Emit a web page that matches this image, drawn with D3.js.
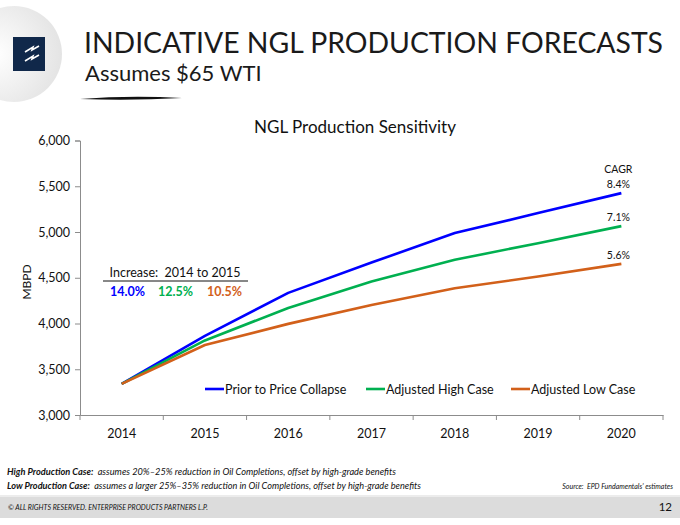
<!DOCTYPE html>
<html>
<head>
<meta charset="utf-8">
<script src="https://cdn.jsdelivr.net/npm/d3@7"></script>
<style>
  body { margin: 0; background: #fff; }
  svg { display: block; font-family: Lato, "Open Sans", sans-serif; }
</style>
</head>
<body>
<svg id="chart" width="680" height="525"></svg>
<script>
// chart data
const years = ["2014", "2015", "2016", "2017", "2018", "2019", "2020"];
const priorCase = [3340, 3865, 4335, 4666, 4988, 5207, 5425];
const highCase  = [3340, 3815, 4170, 4458, 4696, 4878, 5064];
const lowCase   = [3340, 3765, 3996, 4203, 4386, 4513, 4652];
const yTicks = [3000, 3500, 4000, 4500, 5000, 5500, 6000];
const cagrLabels = ["8.4%", "7.1%", "5.6%"];
const increaseLabels = ["14.0%", "12.5%", "10.5%"];
const seriesNames = ["Prior to Price Collapse", "Adjusted High Case", "Adjusted Low Case"];
const colors = ["#0000ff", "#00b050", "#d2601a"];

const svg = d3.select("#chart");

//header: logo disc + navy square
let grad = svg.append("defs").append("radialGradient")
    .attr("id", "disc").attr("cx", "30%").attr("cy", "50%").attr("r", "70%");
grad.append("stop").attr("offset", "0%").attr("stop-color", "#ffffff");
grad.append("stop").attr("offset", "100%").attr("stop-color", "#e4e4e4");
svg.append("circle").attr("cx", 14).attr("cy", 54).attr("r", 48).attr("fill", "url(#disc)");
svg.append("rect").attr("x", 13).attr("y", 37).attr("width", 32).attr("height", 34).attr("fill", "#10284a");
//little lightning strokes
svg.append("path")
    .attr("d", "M25,52 L33,47 L32,50 L39,46 M25,61 L33,56 L32,59 L39,55")
    .attr("stroke", "#fff").attr("stroke-width", 1.6).attr("fill", "none");

svg.append("text").attr("x", 84).attr("y", 53)
    .attr("font-size", 29).attr("fill", "#1a1a1a")
    .attr("textLength", 579).attr("lengthAdjust", "spacingAndGlyphs")
    .text("INDICATIVE NGL PRODUCTION FORECASTS");
svg.append("text").attr("x", 85).attr("y", 81)
    .attr("font-size", 22).attr("fill", "#1a1a1a")
    .text("Assumes $65 WTI");
//swoosh under subtitle
svg.append("path")
    .attr("d", "M80,99 Q130,95 182,98 Q130,101 80,99 Z")
    .attr("fill", "#111");

//chart area
const x = d3.scaleBand().domain(years).range([80, 663]);
const y = d3.scaleLinear().domain([3000, 6000]).range([415, 140.5]);

svg.append("text").attr("x", 355).attr("y", 133)
    .attr("text-anchor", "middle").attr("font-size", 17).attr("fill", "#111")
    .text("NGL Production Sensitivity");

//y axis
let yAxis = svg.append("g")
    .attr("transform", "translate(80,0)")
    .call(d3.axisLeft(y).tickValues(yTicks).tickSize(5).tickFormat(d3.format(",")));
yAxis.selectAll("text").attr("font-size", 12.5).attr("fill", "#111")
    .attr("font-family", "Lato, sans-serif").attr("dx", "-2");
yAxis.selectAll("line, path").attr("stroke", "#8c8c8c");

svg.append("text")
    .attr("transform", "translate(31,282) rotate(-90)")
    .attr("text-anchor", "middle").attr("font-size", 12).attr("fill", "#111")
    .text("MBPD");

//x axis with ticks on band edges
let xAxis = svg.append("g")
    .attr("transform", "translate(0,415)")
    .call(d3.axisBottom(x).tickSize(0).tickPadding(14));
xAxis.select(".domain").attr("stroke", "#8c8c8c");
xAxis.selectAll("text").attr("font-size", 12.5).attr("fill", "#111")
    .attr("font-family", "Lato, sans-serif");
let edges = years.map(d => x(d)).concat([x.range()[1]]);
svg.append("g").selectAll("line")
    .data(edges)
    .enter().append("line")
    .attr("x1", d => d).attr("x2", d => d)
    .attr("y1", 415).attr("y2", 420)
    .attr("stroke", "#8c8c8c");

//lines
const line = d3.line()
    .x((d, i) => x(years[i]) + x.bandwidth() / 2)
    .y(d => y(d));
[priorCase, highCase, lowCase].forEach((s, i) => {
  svg.append("path")
      .datum(s)
      .attr("d", line)
      .attr("fill", "none")
      .attr("stroke", colors[i])
      .attr("stroke-width", 2.6)
      .attr("stroke-linejoin", "round");
});

//CAGR labels at 2020 end
let lastX = x("2020") + x.bandwidth() / 2 - 3;
svg.append("text").attr("x", lastX).attr("y", 173)
    .attr("text-anchor", "middle").attr("font-size", 10.5).attr("fill", "#111").text("CAGR");
[priorCase, highCase, lowCase].forEach((s, i) => {
  svg.append("text")
      .attr("x", lastX).attr("y", y(s[s.length - 1]) - 5)
      .attr("text-anchor", "middle").attr("font-size", 10.5).attr("fill", "#111")
      .text(cagrLabels[i]);
});

//increase annotation
svg.append("text").attr("x", 175).attr("y", 277)
    .attr("text-anchor", "middle").attr("font-size", 12.5).attr("fill", "#111")
    .attr("xml:space", "preserve")
    .text("Increase:  2014 to 2015");
svg.append("line").attr("x1", 103).attr("x2", 248).attr("y1", 281).attr("y2", 281)
    .attr("stroke", "#111").attr("stroke-width", 1);
[110, 158, 207].forEach((px, i) => {
  svg.append("text").attr("x", px).attr("y", 296)
      .attr("font-size", 12.5).attr("font-weight", "bold").attr("fill", colors[i])
      .text(increaseLabels[i]);
});

//legend
const legendX = [205, 366, 511];
seriesNames.forEach((n, i) => {
  let g = svg.append("g").attr("transform", "translate(" + legendX[i] + ",389)");
  g.append("line").attr("x1", 0).attr("x2", 19).attr("y1", 0).attr("y2", 0)
      .attr("stroke", colors[i]).attr("stroke-width", 2.6);
  g.append("text").attr("x", 20).attr("y", 4.5)
      .attr("font-size", 12.5).attr("fill", "#111").text(n);
});

//footnotes
let f1 = svg.append("text").attr("x", 7).attr("y", 475)
    .attr("font-size", 8.8).attr("font-style", "italic").attr("fill", "#111")
    .attr("xml:space", "preserve")
    .attr("textLength", 389).attr("lengthAdjust", "spacingAndGlyphs");
f1.append("tspan").attr("font-weight", "bold").text("High Production Case:");
f1.append("tspan").text("  assumes 20%\u201325% reduction in Oil Completions, offset by high-grade benefits");
let f2 = svg.append("text").attr("x", 7).attr("y", 489)
    .attr("font-size", 8.8).attr("font-style", "italic").attr("fill", "#111")
    .attr("xml:space", "preserve")
    .attr("textLength", 414).attr("lengthAdjust", "spacingAndGlyphs");
f2.append("tspan").attr("font-weight", "bold").text("Low Production Case:");
f2.append("tspan").text("  assumes a larger 25%\u201335% reduction in Oil Completions, offset by high-grade benefits");
svg.append("text").attr("x", 673).attr("y", 489)
    .attr("text-anchor", "end").attr("font-size", 7).attr("font-style", "italic").attr("fill", "#111")
    .attr("xml:space", "preserve")
    .text("Source:  EPD Fundamentals' estimates");

//footer bar
svg.append("rect").attr("x", 0).attr("y", 495).attr("width", 680).attr("height", 23).attr("fill", "#dcdcdc");
svg.append("rect").attr("x", 0).attr("y", 495).attr("width", 680).attr("height", 2).attr("fill", "#ececec");
svg.append("text").attr("x", 8).attr("y", 510)
    .attr("font-size", 6.8).attr("font-style", "italic").attr("fill", "#111")
    .attr("textLength", 200).attr("lengthAdjust", "spacingAndGlyphs")
    .text("\u00A9 ALL RIGHTS RESERVED. ENTERPRISE PRODUCTS PARTNERS L.P.");
svg.append("text").attr("x", 672).attr("y", 511)
    .attr("text-anchor", "end").attr("font-size", 11.5).attr("fill", "#111")
    .text("12");
</script>
</body>
</html>
